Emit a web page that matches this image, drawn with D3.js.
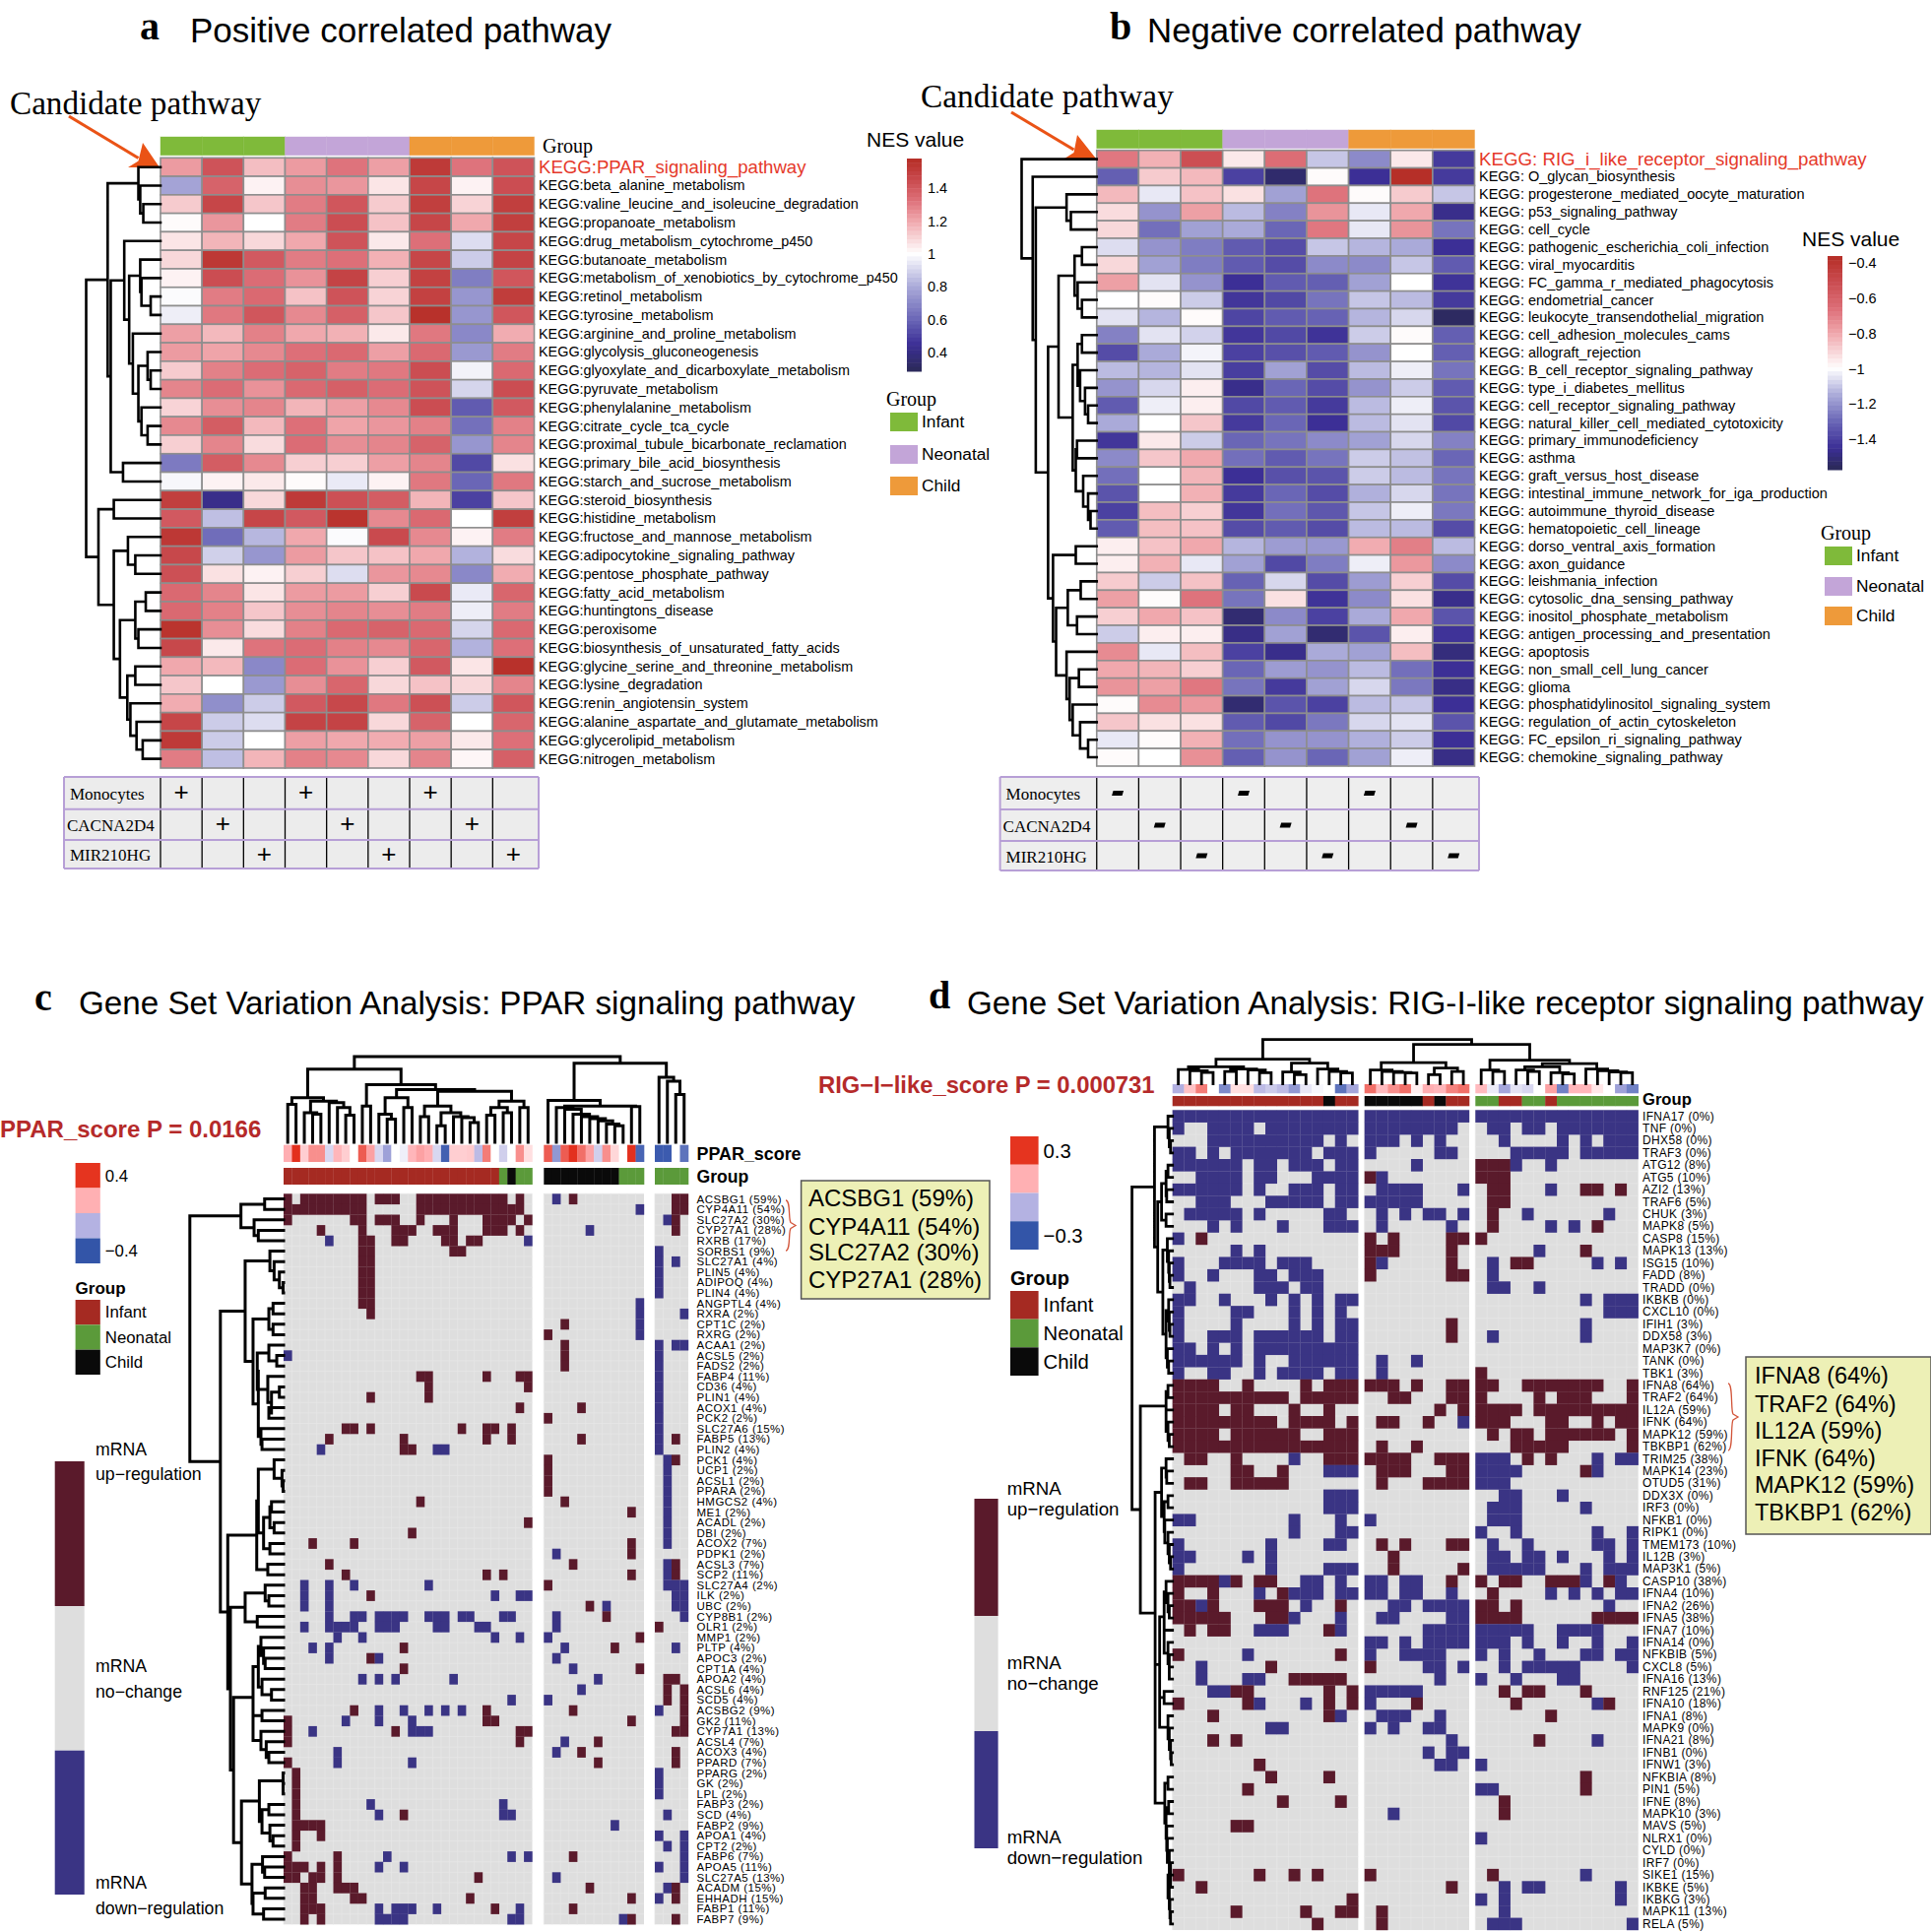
<!DOCTYPE html>
<html><head><meta charset="utf-8">
<script src="https://cdn.jsdelivr.net/npm/d3@7/dist/d3.min.js"></script>
<style>html,body{margin:0;padding:0;background:#fff}svg{display:block}</style>
</head><body><svg id="c" width="1961" height="1962" viewBox="0 0 1961 1962"></svg>
<script>
// ---------- panel a data ----------
const pathwaysA=["KEGG:PPAR_signaling_pathway","KEGG:beta_alanine_metabolism","KEGG:valine_leucine_and_isoleucine_degradation","KEGG:propanoate_metabolism","KEGG:drug_metabolism_cytochrome_p450","KEGG:butanoate_metabolism","KEGG:metabolism_of_xenobiotics_by_cytochrome_p450","KEGG:retinol_metabolism","KEGG:tyrosine_metabolism","KEGG:arginine_and_proline_metabolism","KEGG:glycolysis_gluconeogenesis","KEGG:glyoxylate_and_dicarboxylate_metabolism","KEGG:pyruvate_metabolism","KEGG:phenylalanine_metabolism","KEGG:citrate_cycle_tca_cycle","KEGG:proximal_tubule_bicarbonate_reclamation","KEGG:primary_bile_acid_biosynthesis","KEGG:starch_and_sucrose_metabolism","KEGG:steroid_biosynthesis","KEGG:histidine_metabolism","KEGG:fructose_and_mannose_metabolism","KEGG:adipocytokine_signaling_pathway","KEGG:pentose_phosphate_pathway","KEGG:fatty_acid_metabolism","KEGG:huntingtons_disease","KEGG:peroxisome","KEGG:biosynthesis_of_unsaturated_fatty_acids","KEGG:glycine_serine_and_threonine_metabolism","KEGG:lysine_degradation","KEGG:renin_angiotensin_system","KEGG:alanine_aspartate_and_glutamate_metabolism","KEGG:glycerolipid_metabolism","KEGG:nitrogen_metabolism"];
const nesA=[
[1.23,1.42,1.15,1.23,1.32,1.22,1.52,1.32,1.42],
[0.78,1.37,1.03,1.26,1.24,1.06,1.47,1.03,1.44],
[1.12,1.47,1.13,1.30,1.41,1.12,1.50,1.10,1.50],
[1.01,1.24,1.00,1.30,1.44,1.14,1.47,1.20,1.50],
[1.06,1.17,1.09,1.20,1.42,1.05,1.33,0.92,1.47],
[1.09,1.53,1.40,1.30,1.33,1.18,1.47,0.88,1.48],
[1.03,1.44,1.34,1.25,1.48,1.11,1.49,0.67,1.41],
[0.99,1.30,1.35,1.14,1.42,1.10,1.49,0.74,1.51],
[0.96,1.31,1.41,1.27,1.38,1.13,1.56,0.74,1.41],
[1.22,1.16,1.29,1.20,1.18,1.05,1.31,0.70,1.19],
[1.23,1.21,1.27,1.33,1.35,1.22,1.35,0.75,1.30],
[1.12,1.29,1.34,1.37,1.30,1.31,1.44,0.97,1.35],
[1.28,1.34,1.25,1.35,1.38,1.34,1.42,0.90,1.44],
[1.10,1.26,1.28,1.17,1.22,1.27,1.44,0.57,1.40],
[1.27,1.39,1.16,1.33,1.21,1.24,1.29,0.63,1.29],
[1.11,1.28,1.08,1.34,1.26,1.28,1.37,0.74,1.28],
[0.66,1.39,1.27,1.11,1.11,1.22,1.28,0.52,1.07],
[0.98,1.03,1.05,1.01,0.95,1.03,1.31,0.60,1.31],
[1.50,0.42,1.09,1.52,1.43,1.39,1.17,0.50,1.13],
[1.40,0.85,1.47,1.40,1.55,1.27,1.35,1.00,1.50],
[1.53,0.62,0.83,1.20,0.99,1.45,1.27,1.03,1.30],
[1.46,0.89,0.74,1.23,1.13,1.14,1.20,0.82,1.08],
[1.43,1.07,1.03,1.11,0.92,1.24,1.27,0.70,1.19],
[1.35,1.28,1.06,1.23,1.23,1.11,1.45,0.95,1.36],
[1.35,1.29,1.13,1.26,1.28,1.26,1.30,0.96,1.30],
[1.55,1.26,1.08,1.29,1.35,1.37,1.35,0.90,1.35],
[1.46,1.05,1.32,1.34,1.29,1.27,1.36,0.82,1.33],
[1.20,1.16,0.70,1.34,1.25,1.11,1.40,1.06,1.56],
[1.13,1.00,0.75,1.26,1.36,1.09,1.14,1.09,1.28],
[1.19,0.72,0.88,1.40,1.46,1.31,1.43,0.88,1.41],
[1.47,0.88,0.92,1.48,1.48,1.09,1.37,1.00,1.36],
[1.52,0.88,1.00,1.22,1.20,1.19,1.22,1.05,1.33],
[1.30,0.85,1.17,1.29,1.27,1.09,1.28,1.02,1.38]];
const treeA=[121,[86,[36,0,[33,1,[28,2,3]]],[81,[59,4,[51,[33,5,[31,6,[16,7,8]]],[45,9,[36,[21,10,[16,11,12]],[31,13,[21,14,15]]]]]],[61,16,17]]],
 [101,[76,18,19],[76,[53,20,[41,21,22]],[66,[41,[24,23,24],[36,25,26]],[54,[41,27,28],[49,29,[39,30,[29,31,32]]]]]]]];
// ---------- panel b data ----------
const pathwaysB=["KEGG: RIG_i_like_receptor_signaling_pathway","KEGG: O_glycan_biosynthesis","KEGG: progesterone_mediated_oocyte_maturation","KEGG: p53_signaling_pathway","KEGG: cell_cycle","KEGG: pathogenic_escherichia_coli_infection","KEGG: viral_myocarditis","KEGG: FC_gamma_r_mediated_phagocytosis","KEGG: endometrial_cancer","KEGG: leukocyte_transendothelial_migration","KEGG: cell_adhesion_molecules_cams","KEGG: allograft_rejection","KEGG: B_cell_receptor_signaling_pathway","KEGG: type_i_diabetes_mellitus","KEGG: cell_receptor_signaling_pathway","KEGG: natural_killer_cell_mediated_cytotoxicity","KEGG: primary_immunodeficiency","KEGG: asthma","KEGG: graft_versus_host_disease","KEGG: intestinal_immune_network_for_iga_production","KEGG: autoimmune_thyroid_disease","KEGG: hematopoietic_cell_lineage","KEGG: dorso_ventral_axis_formation","KEGG: axon_guidance","KEGG: leishmania_infection","KEGG: cytosolic_dna_sensing_pathway","KEGG: inositol_phosphate_metabolism","KEGG: antigen_processing_and_presentation","KEGG: apoptosis","KEGG: non_small_cell_lung_cancer","KEGG: glioma","KEGG: phosphatidylinositol_signaling_system","KEGG: regulation_of_actin_cytoskeleton","KEGG: FC_epsilon_ri_signaling_pathway","KEGG: chemokine_signaling_pathway"];
const nesB=[
[-0.68,-0.82,-0.52,-0.95,-0.65,-1.10,-1.22,-0.95,-1.42],
[-1.32,-0.88,-0.84,-1.40,-1.53,-0.99,-1.45,-0.37,-1.42],
[-0.84,-1.04,-0.86,-0.93,-1.17,-0.67,-0.99,-0.88,-1.10],
[-0.92,-1.20,-0.78,-1.12,-1.24,-0.75,-1.04,-0.80,-1.47],
[-0.91,-1.28,-1.17,-1.15,-1.30,-0.68,-1.04,-0.75,-1.27],
[-1.06,-1.20,-1.25,-1.33,-1.37,-1.10,-1.13,-1.15,-1.45],
[-0.91,-1.17,-1.25,-1.33,-1.37,-1.22,-1.22,-1.10,-1.33],
[-0.78,-1.05,-1.20,-1.45,-1.33,-1.32,-1.17,-1.00,-1.44],
[-1.00,-0.99,-1.09,-1.43,-1.38,-1.27,-1.10,-1.12,-1.42],
[-1.05,-1.13,-0.99,-1.39,-1.33,-1.31,-1.13,-1.07,-1.55],
[-1.24,-1.05,-1.08,-1.43,-1.38,-1.44,-1.09,-0.99,-1.32],
[-1.37,-1.15,-1.02,-1.40,-1.36,-1.33,-1.20,-1.00,-1.32],
[-1.12,-1.13,-1.05,-1.41,-1.17,-1.37,-1.12,-1.03,-1.27],
[-1.20,-1.07,-0.96,-1.47,-1.30,-1.37,-1.20,-1.09,-1.33],
[-1.33,-1.03,-0.96,-1.38,-1.33,-1.42,-1.12,-1.03,-1.35],
[-1.15,-1.00,-0.87,-1.42,-1.30,-1.45,-1.12,-1.05,-1.38],
[-1.43,-0.95,-1.09,-1.30,-1.27,-1.22,-1.17,-1.07,-1.24],
[-1.22,-0.87,-0.80,-1.28,-1.33,-1.27,-1.09,-1.11,-1.30],
[-1.28,-1.00,-0.83,-1.45,-1.36,-1.35,-1.09,-1.12,-1.27],
[-1.35,-1.00,-0.82,-1.42,-1.30,-1.37,-1.14,-1.07,-1.27],
[-1.40,-0.85,-0.89,-1.43,-1.28,-1.34,-1.10,-1.03,-1.26],
[-1.33,-0.85,-0.86,-1.37,-1.33,-1.37,-1.12,-1.12,-1.37],
[-0.96,-0.86,-0.80,-1.13,-1.18,-1.19,-0.81,-0.70,-1.12],
[-0.96,-0.82,-1.04,-1.17,-1.38,-1.25,-1.03,-0.76,-1.22],
[-0.88,-1.09,-0.86,-1.31,-1.07,-1.37,-1.18,-0.89,-1.37],
[-0.78,-0.99,-0.67,-1.27,-0.93,-1.44,-1.22,-0.93,-1.47],
[-0.89,-0.80,-0.86,-1.52,-1.22,-1.40,-1.15,-0.80,-1.35],
[-1.09,-0.96,-0.96,-1.48,-1.17,-1.52,-1.35,-0.96,-1.44],
[-0.73,-1.04,-0.85,-1.40,-1.47,-1.15,-1.17,-0.85,-1.50],
[-0.80,-0.83,-0.89,-1.30,-1.18,-1.20,-1.12,-1.28,-1.45],
[-0.75,-0.78,-0.68,-1.27,-1.42,-1.17,-1.07,-1.26,-1.48],
[-0.99,-0.73,-0.76,-1.52,-1.35,-1.40,-1.12,-1.10,-1.45],
[-0.87,-0.93,-0.93,-1.33,-1.38,-1.26,-1.07,-1.05,-1.35],
[-1.04,-0.99,-0.82,-1.28,-1.20,-1.20,-1.14,-1.09,-1.45],
[-0.99,-1.00,-0.74,-1.32,-1.20,-1.30,-1.17,-1.03,-1.48]];
const treeB=[122,0,[104,1,[99,[49,2,[42,3,4]],[79,[62,[36,[24,5,6],[31,7,[24,8,9]]],[39,[31,[24,10,11],[27,12,[19,13,[14,14,15]]]],[34,[32,16,17],[22,18,[14,19,[10,20,21]]]]]],[71,[34,22,23],[66,[47,[26,24,25],[32,26,27]],[49,28,[44,[29,29,30],[39,31,[27,32,[14,33,34]]]]]]]]]]];
// shared for a/b
const sampleGroups=["Infant","Infant","Infant","Neonatal","Neonatal","Neonatal","Child","Child","Child"];
const tableRows=["Monocytes","CACNA2D4","MIR210HG"];
const tableSign=[[1,0,0,1,0,0,1,0,0],[0,1,0,0,1,0,0,1,0],[0,0,1,0,0,1,0,0,1]];
const groupNames=["Infant","Neonatal","Child"];
const ticksA=[1.4,1.2,1,0.8,0.6,0.4];
const ticksB=[-0.4,-0.6,-0.8,-1,-1.2,-1.4];
// ---------- panel c data ----------
const genesC=["ACSBG1 (59%)","CYP4A11 (54%)","SLC27A2 (30%)","CYP27A1 (28%)","RXRB (17%)","SORBS1 (9%)","SLC27A1 (4%)","PLIN5 (4%)","ADIPOQ (4%)","PLIN4 (4%)","ANGPTL4 (4%)","RXRA (2%)","CPT1C (2%)","RXRG (2%)","ACAA1 (2%)","ACSL5 (2%)","FADS2 (2%)","FABP4 (11%)","CD36 (4%)","PLIN1 (4%)","ACOX1 (4%)","PCK2 (2%)","SLC27A6 (15%)","FABP5 (13%)","PLIN2 (4%)","PCK1 (4%)","UCP1 (2%)","ACSL1 (2%)","PPARA (2%)","HMGCS2 (4%)","ME1 (2%)","ACADL (2%)","DBI (2%)","ACOX2 (7%)","PDPK1 (2%)","ACSL3 (7%)","SCP2 (11%)","SLC27A4 (2%)","ILK (2%)","UBC (2%)","CYP8B1 (2%)","OLR1 (2%)","MMP1 (2%)","PLTP (4%)","APOC3 (2%)","CPT1A (4%)","APOA2 (4%)","ACSL6 (4%)","SCD5 (4%)","ACSBG2 (9%)","GK2 (11%)","CYP7A1 (13%)","ACSL4 (7%)","ACOX3 (4%)","PPARD (7%)","PPARG (2%)","GK (2%)","LPL (2%)","FABP3 (2%)","SCD (4%)","FABP2 (9%)","APOA1 (4%)","CPT2 (2%)","FABP6 (7%)","APOA5 (11%)","SLC27A5 (13%)","ACADM (15%)","EHHADH (15%)","FABP1 (11%)","FABP7 (9%)"];
const onco_c=["u0 u2-9 u11-13 u16-26 u28|d1 u3|u2-3","u0-9 u16-28|d11|u2-3","u0 u8-9 u11-13 u16 u20 u24-27 u29||d1 u2","u4 u9 u13-15 u18-20 u24-26 u28|d5|u2","d5 u9-10 u13-14 u19-20 u22-23 d29||","u9-10 u20-21||d0","u9-10||d0 d2","u9-10||d0","u9-10||d0","u9-10||d0","u9-10|d11|","u10|d11|d3","|u2 d11|","|u0 d11|","|u2|d0 d2-3","d0|u2|d0","|u2|d0","u16-17 u24 u28-29||d0","u17 u29||d0","u10 u17||d0","u28|u4|d0","|u0|d0","u7-8 u10 u21 u24-25 u27||d0","u5 u14 u24 u27|u4|d0 u2","d4 u14-15 d18-19||d0","|u0|d1 u2","|u0|d1","|u0|d1","|u0|d1","u16|u2|d1","|u10|d1","u29||d1","u15||d1","u3 u8|u10|d1","|d1 u10|","u5|u3|d1 u2","u7 u24 u26|u10|d1 u2","d2 d5 d8 d17|u0|d1-3","d2 d5 u10 d25 d28-29||d2-3","d2 d5|u5 d7|d2-3","d5 d8-9 d11-14 d17-19 d21-22 d26-27|d1 u7|d3","d2 d5-8 d11-13 d18-19 d23-24|d1|u0","d6 d9 d25 d28|d0 u11|","d3 d5 u14|d2 u8|d2","d5 u10 d11|d1|","u14|d3 u11|","d9 d11 d13 d20|d6|u1-2","|d4|u1 u3","d27|d0|u1 u3","u8 d11 d14 d17 d19 d21 u24|u3|d0 u3","u0 d7 d11 d15 u24-25|u10|u3","u0 d3 u13 d15-17 u28-29||u2-3","u0 u28|d2 u6|","d6|d1 u4|u2","u0 d6 d15|u6|u2","u1||d0","u1||d0","u1||d0","u1 d10 d26||","u1 d11 u14 d26-27||d1","u1-4|d8|","u1 u4||d0 d3","u1||d1 d3","u0 u6 d12 d27 d29|u3|d3","u0-2 u4 u6 d11 d14||d0 d3","u0-1 u3-4 u6 u23|d1|d3","u2-3 u6-8|u5|d1 u2","u2-3 u8-9 u22|u10|d0 u2","u2-4 d11 d13-15 d18 u25 d28|u3|","u2 u4 d11-14 d27-28|d9 u10|u2"];
const score_c=[[0.2,0.4,0.12,0.25,0.25,-0.1,0.18,0.12,0,0.33,0.22,-0.1,-0.23,0,-0.04,0.18,0.22,0.2,-0.1,-0.37,0.12,0.12,0.13,-0.17,0.28,0,-0.12,0,0.25,0.08],[0.33,-0.25,0.33,0.4,0.3,0.22,-0.12,0.25,0.1,0,0.4,-0.36],[-0.38,-0.38,0,-0.33]];
const group_c=["IIIIIIIIIIIIIIIIIIIIIIIIIINCNN","CCCCCCCCCNNN","NNNN"];
const rowTreeC=[178,[81,[36,0,1],[56,2,[48,3,4]]],[120,[73,[26,5,[18,6,[8,7,[1,8,9]]]],[58,[28,[20,10,11],[20,12,13]],[48,[50,[28,14,[13,15,16]],[30,17,[23,[8,18,19],[28,20,21]]]],[43,22,[41,23,24]]]]],
 [106,[51,[48,[18,25,[3,26,[1,27,28]]],[38,[26,[23,29,30],[18,31,32]],[26,33,34]]],[30,35,36]],[101,[73,[35,37,[28,38,39]],[50,40,41]],[95,[58,[48,[43,42,[38,43,[35,44,45]]],[41,46,[23,47,48]]],[58,[41,49,50],[43,51,[33,52,[28,53,54]]]]],[80,[46,[1,55,[1,56,57]],[41,[28,58,59],[26,60,[20,61,62]]]],[60,[40,63,[36,64,65]],[58,[35,66,67],[38,68,69]]]]]]]]];
const colTreeC=[260,[222,[135,[115,0,1],[125,[90,2,[85,3,4]],[120,5,[105,6,[82,7,8]]]]],[175,[110,9,10],[160,[135,[85,11,[70,12,13]],[105,14,15]],[155,[110,[78,16,17],[90,[50,18,19],[78,20,[75,21,[60,22,23]]]]],[125,[105,[82,24,25],[90,26,27]],[105,28,29]]]]]],
 [240,[127,30,[110,[105,31,[100,32,[85,33,[78,34,[72,35,[65,36,[55,37,[50,38,39]]]]]]]],[108,40,41]]],[197,42,[185,43,[145,44,45]]]]];
// ---------- panel d data ----------
const genesD=["IFNA17 (0%)","TNF (0%)","DHX58 (0%)","TRAF3 (0%)","ATG12 (8%)","ATG5 (10%)","AZI2 (13%)","TRAF6 (5%)","CHUK (3%)","MAPK8 (5%)","CASP8 (15%)","MAPK13 (13%)","ISG15 (10%)","FADD (8%)","TRADD (0%)","IKBKB (0%)","CXCL10 (0%)","IFIH1 (3%)","DDX58 (3%)","MAP3K7 (0%)","TANK (0%)","TBK1 (3%)","IFNA8 (64%)","TRAF2 (64%)","IL12A (59%)","IFNK (64%)","MAPK12 (59%)","TBKBP1 (62%)","TRIM25 (38%)","MAPK14 (23%)","OTUD5 (31%)","DDX3X (0%)","IRF3 (0%)","NFKB1 (0%)","RIPK1 (0%)","TMEM173 (10%)","IL12B (3%)","MAP3K1 (5%)","CASP10 (38%)","IFNA4 (10%)","IFNA2 (26%)","IFNA5 (38%)","IFNA7 (10%)","IFNA14 (0%)","NFKBIB (5%)","CXCL8 (5%)","IFNA16 (13%)","RNF125 (21%)","IFNA10 (18%)","IFNA1 (8%)","MAPK9 (0%)","IFNA21 (8%)","IFNB1 (0%)","IFNW1 (3%)","NFKBIA (8%)","PIN1 (5%)","IFNE (8%)","MAPK10 (3%)","MAVS (5%)","NLRX1 (0%)","CYLD (0%)","IRF7 (0%)","SIKE1 (15%)","IKBKE (5%)","IKBKG (3%)","MAPK11 (13%)","RELA (5%)"];
const onco_d=["d0-15|d0-8|d0-13","d0 d3-6 d8-15|d0-7|d1-2 d4-5 d7-13","d3-12 d14|d0-2 d4 d6|d2 d7 d9 d11-13","d0-1 d3 d5-11 d13-15|d0 d6-7|d3-7 d9-13","d0-5 d7-8 d10-12 d14-15|d4|u0-2 d3 d6","d2-5 d7-8 d12-15|u0 d1|u0-2","d0-5 d7 d10-12 d14-15|d1-4 d8|u1-2 d6 u9-10 u12","d2-4 d8-12 d14-15|d0-4|u1-2","d1-5 d7 d13-14|d1 d3 d5-6 d8|u1 d4 d11","d3 d5 d9 d13-15|d1 d7|u1 d6 d8 u10","d0 u2|u0 u2 u7-8|u0","d5 d7|u0-2 u7|d5 u9","d0 d4-7 d9-11|u0 d1 u7|d1 u3-4 d10 d12","d0 d3 d7-8 d10-12|u0 u7-8|d1","d1 d7-9 d11-12||d1-2 d5","d0-1 d4 d8 d10 d12 d14-15||d9 d11-13","d0 d5-6 d10 d12 d14||d11-13","d0 d5 d10 d12 d14-15|u7|d9","d0 d3-5 d7-12 d14-15|u7|d1 d9","d0-1 d3 d5 d7-15||","d0-5 d7 d10-15|d1 d4|","d0 d3-4 d7 d9-12 d14-15|d1|u0","u0-3 u6 u11 u13-15|u0-2 u4 u7-8|u0-1 u4-10 u13","u0-9 u11-15|u2-3 u7-8|u0 u5 u7-9 u13","u0-3 u5-6 u10 u13|u6 u8|u0-3 u5-13","u0-8 u10-13 u15|u1-2 u5 d8|u0-2 u6-7 u10 u12-13","u0-3 u5-10 u13-15||u1 u3-4 u6-11 u13","u0-15|u1 u4|u3-7 u13","u1-2 u5 d10 u13-15|u0-3 u6-8|d0-2 u4 u6 d10 d12-13","u5-6 u9 d13-15|u1-3 u7-8|d0-3 u9 d10","u1-2 u5-9|u1 u5-8|d0-2","d13-15||d2-3 d7","d13-15||d1-3 d9","d0-1 d10 d14|d0|d1-3","d10 d14-15||d0 d3 d10 d13","d0 d8 d13-14|u1 u3 u7-8|d1 d4 d10-11 d13","d0-1 d6 d8|u2|d1-2 d4-5 d7 d11 d13","d0 d8 d13-15|u2 u8|d1-5 d9 d11-13","u0-3 d4 u5 u7-8 d11-12 d14|d0-1 d3-4 u7|u0 u2-3 u6-8 d9 u11 d12","u0 u3 d7 u9 d10-12 d14-15|d0-1 d3-4 d7|u1 d6 d8 d10 d12-13","u0-1 d2 u3 u7-9 d11 u14|d2-3 d5-8|u0-1 u3 d11","u0-4 u8-9 d10 d14|d1-2 d7-8|u0-3 u10-13","u1 u3-4 d7-9 u13 d14|d5-8|d0-4 d7-10","|d0-1 d3 d5-8|d0-2 d4 d7 d10 d13","u0 d6 u14|d0 d3-6|d0 d2 d5 d9-10 d12-13","d2 u8|u0 d5-6 d8|d2 d4-8 d13","d2 d6-7 u10-14|d6|d0 d3 d7-8","d3-4 u5-6 u13 u15|d0-4|u2 u4-5 u9","u0 u6 d7 d11 u13 u15|d0 u4|u3 d10 u11","u3 u13 d14|d1-3 d6|u6","d8-9|d0 d2 d5-6|","u3 u5|d7|u5 d10","|d5 d7-8|","u7|d6-7|d0","u8 u13||u9","u6||d0-1 u9","u9 u14||u2","|d2|u2","u5-6||","||d0","||","||","u0 u7 u10 u12|u0|u1 d9","u2|u7|d2 d4-5 d12","u15||d0 d2 d12","u5 u11 u14-15|u1|d2","u12|u1|d1-3 d13"];
const score_d=[[-0.2,0.15,0.28,0,-0.28,0.08,0.08,-0.17,-0.13,-0.17,-0.25,-0.06,-0.02,0,-0.33,-0.22],[0.3,0.17,0.25,0.3,0.04,0.2,0.18,0.27,0.3],[0.17,-0.05,-0.22,-0.07,-0.1,0,0.22,-0.3,0.18,0.18,0.06,0,-0.23,-0.3]];
const group_d=["IIIIIIIIIIIIICII","CCCCCICII","NNIINNINNNNNNN"];
const rowTreeD=[63,[28,[7,0,[5,1,[3,2,3]]],[23,[17,[10,[7,4,5],[9,6,7]],[10,8,9]],[15,[8,10,[6,11,[5,12,[4,13,14]]]],[10,[6,15,[5,16,[4,17,18]]],[8,19,[6,20,21]]]]]],
 [50,[10,[7,22,23],[10,24,[7,25,[5,26,27]]]],[27,[17,[10,28,[9,29,30]],[13,[7,31,32],[12,33,[7,34,[5,35,[3,36,37]]]]]],[27,[20,[13,[10,38,[7,39,[5,40,41]]],[13,42,[7,43,[5,44,[5,45,46]]]]],[20,[13,47,48],[7,49,[5,50,[3,51,[2,52,53]]]]]],[12,[7,54,55],[10,[6,56,57],[9,58,[8,59,[5,60,[3,61,[7,62,[5,63,[4,64,[3,65,66]]]]]]]]]]]]]];
const colTreeD=[135,[75,[52,[44,0,[40,1,[35,2,3]]],[45,[38,4,5],[42,6,[34,7,8]]]],[63,[36,9,[28,10,11]],[45,12,[38,13,[33,14,15]]]]],
 [120,[65,[42,16,[38,17,[35,18,[33,19,20]]]],[48,[28,21,22],[38,23,24]]],[72,[42,25,[38,26,27]],[62,[52,[42,28,[38,29,30]],[34,31,[30,32,33]]],[45,34,[40,35,[36,36,[34,37,38]]]]]]]];
const boxC=["ACSBG1 (59%)","CYP4A11 (54%)","SLC27A2 (30%)","CYP27A1 (28%)"];
const boxD=["IFNA8 (64%)","TRAF2 (64%)","IL12A (59%)","IFNK (64%)","MAPK12 (59%)","TBKBP1 (62%)"];
const mrnaLabels=[["mRNA","up\u2212regulation"],["mRNA","no\u2212change"],["mRNA","down\u2212regulation"]];

// ---------- helpers ----------
const svg=d3.select("#c");
const SANS='"Liberation Sans",Arial,sans-serif',SERIF='"Liberation Serif","Times New Roman",serif';
function txt(x,y,s,o={}){return svg.append("text").attr("x",x).attr("y",y).attr("dominant-baseline","central")
  .attr("font-size",o.size||14).attr("font-family",o.font||SANS).attr("font-weight",o.weight||"normal")
  .attr("letter-spacing",o.ls||0).attr("fill",o.fill||"#000").attr("text-anchor",o.anchor||"start").text(s);}
const nesColor=d3.scaleLinear().domain([0.3,0.45,0.6,0.8,1,1.2,1.33,1.45,1.58]).range(["#2c2a5c","#3c2f96","#6a66b6","#aaaad9","#ffffff","#f0a8ad","#dd6f78","#c94a4e","#b52d25"]).clamp(true);
const nesColorB=d3.scaleLinear().domain([-1.56,-1.45,-1.3,-1.15,-1,-0.8,-0.66,-0.5,-0.36]).range(["#2c2a5c","#3c2f96","#6a66b6","#aaaad9","#ffffff","#f0a8ad","#dd6f78","#c94a4e","#b52d25"]).clamp(true);
const scoreColor=d3.scaleLinear().domain([-0.4,-0.2,0,0.2,0.4]).range(["#2f52a9","#b1afe0","#ffffff","#ffaeb2","#e3301e"]).clamp(true);
const groupColA={Infant:"#7fba3a",Neonatal:"#c3a5d8",Child:"#ee9a3a"};
const groupColC={I:"#a52a22",N:"#5b9a3a",C:"#0a0a0a"};
const UP="#5a1a2b",DOWN="#3a3484",BG="#dedede";

function drawTree(spec,hScale,leafPos,vertical,w){
  const root=d3.hierarchy(spec,d=>Array.isArray(d)?d.slice(1):null);
  const h=n=>Array.isArray(n.data)?n.data[0]:0;
  root.eachAfter(n=>{n.pos=n.children?d3.mean([n.children[0].pos,n.children[n.children.length-1].pos]):leafPos(n.data);});
  const p=d3.path();
  root.each(n=>{if(!n.children)return;
    const a=hScale(h(n));
    n.children.forEach(c=>{const b=hScale(h(c));
      if(vertical){p.moveTo(c.pos,b);p.lineTo(c.pos,a);}else{p.moveTo(b,c.pos);p.lineTo(a,c.pos);}});
    const s=n.children[0].pos,e=n.children[n.children.length-1].pos;
    if(vertical){p.moveTo(s,a);p.lineTo(e,a);}else{p.moveTo(a,s);p.lineTo(a,e);}
  });
  svg.append("path").attr("d",p.toString()).attr("fill","none").attr("stroke","#000").attr("stroke-width",w).attr("stroke-linecap","square");
}

function heatPanel(o){
  const x=d3.scaleBand().domain(d3.range(9)).range(o.xr);
  const y=d3.scaleBand().domain(d3.range(o.labels.length)).range(o.yr);
  svg.append("g").selectAll("rect").data(sampleGroups).join("rect").attr("x",(d,i)=>x(i)).attr("y",o.gy[0]).attr("width",x.bandwidth()).attr("height",o.gy[1]-o.gy[0]).attr("fill",d=>groupColA[d]).attr("stroke",d=>groupColA[d]).attr("stroke-opacity",0.4);
  o.m.forEach((row,r)=>svg.append("g").selectAll("rect").data(row).join("rect").attr("x",(d,i)=>x(i)).attr("y",y(r)).attr("width",x.bandwidth()).attr("height",y.bandwidth()).attr("fill",o.color).attr("stroke","#8e8e8e").attr("stroke-width",1.6));
  o.labels.forEach((s,r)=>txt(o.lx,y(r)+y.bandwidth()/2,s,r?{size:o.fs}:{size:o.fsH,fill:"#e5392a"}));
  const hs=d3.scaleLinear().domain([0,o.hmax]).range([o.xr[0],o.rootX]);
  drawTree(o.tree,hs,i=>y(i)+y.bandwidth()/2,false,2.6);
  // colorbar
  const cb=d3.scaleLinear().domain(o.cbDomain).range(o.cbY);
  const n=50,vals=d3.range(n).map(i=>cb.invert(o.cbY[0]+(i+.5)*(o.cbY[1]-o.cbY[0])/n));
  svg.append("g").selectAll("rect").data(vals).join("rect").attr("x",o.cbX).attr("y",(d,i)=>o.cbY[0]+i*(o.cbY[1]-o.cbY[0])/n).attr("width",15).attr("height",(o.cbY[1]-o.cbY[0])/n+.5).attr("fill",o.color);
  const ax=d3.axisRight(cb).tickValues(o.ticks).tickSize(0).tickPadding(6).tickFormat(d=>String(d).replace("-","\u2212"));
  const ag=svg.append("g").attr("transform",`translate(${o.cbX+15},0)`).call(ax);
  ag.select(".domain").remove();ag.selectAll("text").attr("font-size",14.5).attr("font-family",SANS);
  txt(o.nesX,o.nesY,"NES value",{size:21});
  // group legend
  txt(o.gLegX-4,o.gLegY,"Group",{size:o.gFs,font:SERIF});
  groupNames.forEach((g,i)=>{svg.append("rect").attr("x",o.gLegX).attr("y",o.gLegRows[i]).attr("width",28).attr("height",19).attr("fill",groupColA[g]);
    txt(o.gLegX+32,o.gLegRows[i]+9,g,{size:17.3});});
  // table
  const tb=o.table;
  svg.append("rect").attr("x",tb.x0).attr("y",tb.rows[0]).attr("width",tb.x1-tb.x0).attr("height",tb.rows[3]-tb.rows[0]).attr("fill",tb.fill);
  tableRows.forEach((s,r)=>{
    txt(tb.x0+(r===1?3:6),(tb.rows[r]+tb.rows[r+1])/2+1,s,{size:17,font:SERIF});
    tableSign[r].forEach((v,i)=>{if(!v)return;const cx=x(i)+x.bandwidth()/2,cy=(tb.rows[r]+tb.rows[r+1])/2;
      if(o.sign==="+")txt(cx,cy-1,"+",{size:26,anchor:"middle",font:SANS});
      else svg.append("path").attr("d",`M${cx-6},${cy+2.5}L${cx-4.5},${cy-2.5}L${cx+6},${cy-2.5}L${cx+4.5},${cy+2.5}Z`).attr("fill","#000");
    });
  });
  d3.range(9).forEach(i=>svg.append("line").attr("x1",x(i)).attr("x2",x(i)).attr("y1",tb.rows[0]).attr("y2",tb.rows[3]).attr("stroke","#000").attr("stroke-width",1.3));
  tb.rows.forEach(v=>svg.append("line").attr("x1",tb.x0).attr("x2",tb.x1).attr("y1",v).attr("y2",v).attr("stroke","#b79fd6").attr("stroke-width",2));
  [tb.x0,tb.x1].forEach(v=>svg.append("line").attr("x1",v).attr("x2",v).attr("y1",tb.rows[0]).attr("y2",tb.rows[3]).attr("stroke","#b79fd6").attr("stroke-width",2));
}
function arrow(p0,tip,b1,b2){
  svg.append("line").attr("x1",p0[0]).attr("y1",p0[1]).attr("x2",(b1[0]+b2[0])/2+3).attr("y2",(b1[1]+b2[1])/2+3).attr("stroke","#ea5316").attr("stroke-width",3.2);
  svg.append("path").attr("d",`M${tip}L${b1}L${(b1[0]+b2[0])/2+3},${(b1[1]+b2[1])/2+6}L${b2}Z`).attr("fill","#ea5316");
}
function parseOnco(s){const cells=[];s.split("|").forEach((seg,b)=>{seg.split(" ").filter(Boolean).forEach(t=>{const k=t[0],[a,e]=t.slice(1).split("-").map(Number);for(let c=a;c<=(e===undefined?a:e);c++)cells.push({b,c,k});});});return cells;}

function oncoPanel(o){
  const y=d3.scaleBand().domain(d3.range(o.genes.length)).range(o.yr);
  const xs=o.blocks.map(b=>d3.scaleBand().domain(d3.range(b.n)).range(b.r));
  xs.forEach((x,b)=>{
    svg.append("rect").attr("x",o.blocks[b].r[0]).attr("y",o.yr[0]).attr("width",o.blocks[b].r[1]-o.blocks[b].r[0]).attr("height",o.yr[1]-o.yr[0]).attr("fill",BG);
    x.domain().forEach(c=>svg.append("line").attr("x1",x(c)).attr("x2",x(c)).attr("y1",o.yr[0]).attr("y2",o.yr[1]).attr("stroke","#e6e6e6").attr("stroke-width",0.8));
    y.domain().forEach(r=>svg.append("line").attr("x1",o.blocks[b].r[0]).attr("x2",o.blocks[b].r[1]).attr("y1",y(r)).attr("y2",y(r)).attr("stroke","#e6e6e6").attr("stroke-width",0.8));
    svg.append("g").selectAll("rect").data(o.score[b]).join("rect").attr("x",(d,i)=>x(i)).attr("y",o.sy[0]).attr("width",x.bandwidth()+.3).attr("height",o.sy[1]-o.sy[0]).attr("fill",scoreColor);
    svg.append("g").selectAll("rect").data(Array.from(o.group[b])).join("rect").attr("x",(d,i)=>x(i)).attr("y",o.gy[0]).attr("width",x.bandwidth()+.3).attr("height",o.gy[1]-o.gy[0]).attr("fill",d=>groupColC[d]);
  });
  o.rows.forEach((s,r)=>{parseOnco(s).forEach(d=>{
    svg.append("rect").attr("x",xs[d.b](d.c)).attr("y",y(r)).attr("width",xs[d.b].bandwidth()+.2).attr("height",y.bandwidth()+.2).attr("fill",d.k==="u"?UP:DOWN);
  });
    txt(o.lx,y(r)+y.bandwidth()/2,o.genes[r],{size:o.fs,ls:o.ls});
  });
  const hr=d3.scaleLinear().domain([0,o.rowH]).range([o.yr0x,o.rowRoot]);
  drawTree(o.rowTree,hr,i=>y(i)+y.bandwidth()/2,false,o.tw);
  const hc=d3.scaleLinear().domain([0,o.colH]).range(o.colY);
  const nAcc=[];let acc=0;o.blocks.forEach(b=>{nAcc.push(acc);acc+=b.n;});
  drawTree(o.colTree,hc,i=>{let b=0;while(b+1<nAcc.length&&i>=nAcc[b+1])b++;const x=xs[b];return x(i-nAcc[b])+x.bandwidth()/2;},true,o.tw);
}
function legendC(o){
  const sc=["#e5341f","#ffb0b3","#b4b2e2","#3355a8"];
  const ys=d3.scaleBand().domain(d3.range(4)).range(o.sy);
  svg.append("g").selectAll("rect").data(sc).join("rect").attr("x",o.x).attr("y",(d,i)=>ys(i)).attr("width",o.w).attr("height",ys.bandwidth()).attr("fill",d=>d);
  txt(o.x+o.w+5,o.st[0],o.sl[0],{size:o.lfs});txt(o.x+o.w+5,o.st[1],o.sl[1],{size:o.lfs});
  txt(o.x,o.gTitle,"Group",{size:o.titleFs,weight:"bold"});
  const yg=d3.scaleBand().domain(d3.range(3)).range(o.gy);
  groupNames.forEach((g,i)=>{svg.append("rect").attr("x",o.x).attr("y",yg(i)).attr("width",o.w).attr("height",yg.bandwidth()).attr("fill",groupColC[g[0]]);
    txt(o.x+o.w+5,yg(i)+yg.bandwidth()/2,g,{size:o.lfs});});
  const bar=[UP,BG,DOWN];
  bar.forEach((c,i)=>svg.append("rect").attr("x",o.bx[0]).attr("y",o.by[i]).attr("width",o.bx[1]-o.bx[0]).attr("height",o.by[i+1]-o.by[i]).attr("fill",c));
  mrnaLabels.forEach((l,i)=>l.forEach((s,j)=>txt(o.mx,o.my[i][j],s,{size:o.mfs})));
}
function yBox(x0,y0,x1,y1,lines,ly,lx,fs){
  svg.append("rect").attr("x",x0).attr("y",y0).attr("width",x1-x0).attr("height",y1-y0).attr("fill","#edf0b6").attr("stroke","#555").attr("stroke-width",1.5);
  lines.forEach((s,i)=>txt(lx,ly[i],s,{size:fs}));
}
function brace(x,y0,y1){
  const m=(y0+y1)/2,d=5;
  svg.append("path").attr("d",`M${x-d},${y0}C${x},${y0} ${x-d/2},${m-6} ${x},${m-3}L${x+d},${m}L${x},${m+3}C${x-d/2},${m+6} ${x},${y1} ${x-d},${y1}`).attr("fill","none").attr("stroke","#d2553a").attr("stroke-width",1.3);
}

// ---------- titles ----------
txt(142,26,"a",{size:40,font:SERIF,weight:"bold"});
txt(193,30,"Positive correlated pathway",{size:35});
txt(1127,26,"b",{size:40,font:SERIF,weight:"bold"});
txt(1165,30,"Negative correlated pathway",{size:34.8});
txt(35,1012,"c",{size:40,font:SERIF,weight:"bold"});
txt(80,1018,"Gene Set Variation Analysis: PPAR signaling pathway",{size:33.2});
txt(943,1010,"d",{size:40,font:SERIF,weight:"bold"});
txt(982,1018,"Gene Set Variation Analysis: RIG-I-like receptor signaling pathway",{size:33.2});
txt(10,104,"Candidate pathway",{size:33.2,font:SERIF});
txt(935,97,"Candidate pathway",{size:33.4,font:SERIF});
arrow([70,118],[162,170],[145,145],[130,170]);
arrow([1027,114],[1113,161],[1094,137],[1081,161]);
txt(551,148,"Group",{size:20,font:SERIF});

// ---------- panels a / b ----------
heatPanel({xr:[163,542.5],yr:[160.3,780],gy:[139,157.7],m:nesA,labels:pathwaysA,color:nesColor,lx:547,fs:14.4,fsH:18.6,tree:treeA,hmax:121,rootX:87.5,
  cbX:921,cbY:[161,377],cbDomain:[1.58,0.287],ticks:ticksA,nesX:880,nesY:141,gLegX:904,gLegY:405,gFs:20,gLegRows:[419,452,484],
  table:{x0:65,x1:547,rows:[789,821.7,853,882],fill:"#ececec"},sign:"+"});
heatPanel({xr:[1113.75,1497.5],yr:[152.7,778],gy:[132,150.7],m:nesB,labels:pathwaysB,color:nesColorB,lx:1502,fs:14.5,fsH:18.7,tree:treeB,hmax:122,rootX:1037.5,
  cbX:1856,cbY:[260,477],cbDomain:[-0.361,-1.573],ticks:ticksB,nesX:1830,nesY:242,gLegX:1853,gLegY:541,gFs:20,gLegRows:[555,586,616],
  table:{x0:1015.6,x1:1502,rows:[789,822,854,884],fill:"#eeeeee"},sign:"-"});

// ---------- panels c / d ----------
oncoPanel({genes:genesC,rows:onco_c,yr:[1212.3,1954.3],blocks:[{n:30,r:[288,540.5]},{n:12,r:[552.3,654]},{n:4,r:[665,699]}],score:score_c,group:group_c,sy:[1162.7,1180],gy:[1186,1203],lx:707.5,fs:11.5,ls:0.5,rowTree:rowTreeC,rowH:178,yr0x:288,rowRoot:192.8,colTree:colTreeC,colH:260,colY:[1160,1073],tw:3});
oncoPanel({genes:genesD,rows:onco_d,yr:[1127.3,1960],blocks:[{n:16,r:[1190.7,1379.3]},{n:9,r:[1385.7,1492]},{n:14,r:[1498.3,1663.7]}],score:score_d,group:group_d,sy:[1101,1110.3],gy:[1113,1123.3],lx:1668,fs:12,ls:0.35,rowTree:rowTreeD,rowH:63,yr0x:1190.7,rowRoot:1149.6,colTree:colTreeD,colH:135,colY:[1100.7,1055.7],tw:2.8});
txt(707.5,1172,"PPAR_score",{size:17.9,weight:"bold"});
txt(707.5,1195,"Group",{size:17.6,weight:"bold"});
txt(1668,1116,"Group",{size:16.6,weight:"bold"});
txt(0,1146,"PPAR_score P = 0.0166",{size:24,weight:"bold",fill:"#b52a2a"});
txt(831,1101,"RIG\u2212I\u2212like_score P = 0.000731",{size:23.8,weight:"bold",fill:"#b52a2a"});
legendC({x:76.6,w:25.2,sy:[1181,1283],st:[1194,1270],sl:["0.4","\u22120.4"],gTitle:1308,titleFs:17,lfs:16.8,gy:[1320,1396],bx:[55.7,85.7],by:[1484,1631,1777.7,1924],mx:97,my:[[1472,1497],[1692,1718],[1912,1938]],mfs:17.7});
legendC({x:1026,w:28.6,sy:[1154,1269],st:[1169,1255],sl:["0.3","\u22120.3"],gTitle:1298,titleFs:20,lfs:20.3,gy:[1311,1397],bx:[989.5,1013.6],by:[1522,1641,1758,1877],mx:1022.7,my:[[1511,1532],[1688,1709],[1865,1886]],mfs:18.7});
yBox(813.6,1199,1005,1319,boxC,[1216,1245,1271,1299],821,24);
yBox(1773,1378,1961,1558,boxD,[1397,1426,1453,1481,1508,1536],1782,23.5);
brace(803,1219,1270);
brace(1760,1405,1473);
</script></body></html>
